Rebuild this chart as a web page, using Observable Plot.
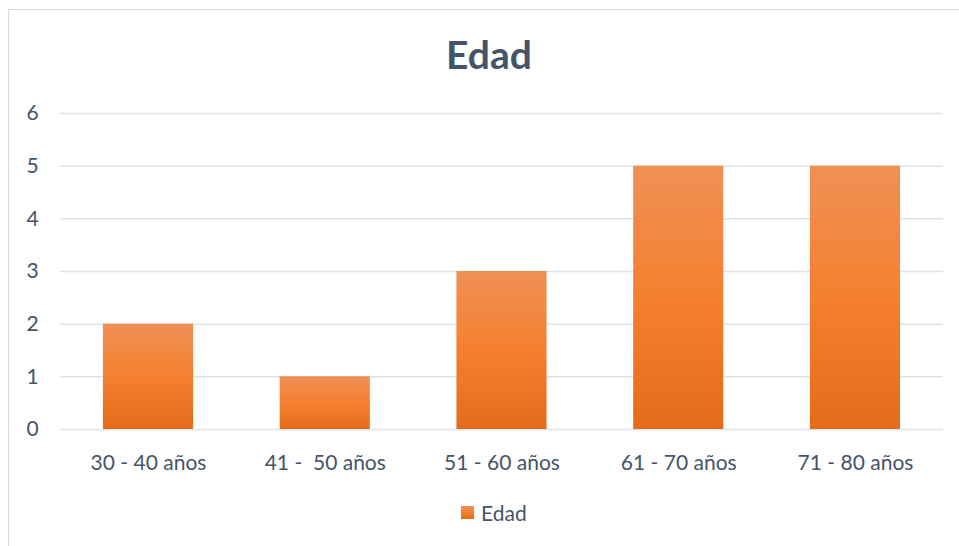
<!DOCTYPE html>
<html><head><meta charset="utf-8">
<script src="https://cdn.jsdelivr.net/npm/d3@7"></script>
<script src="https://cdn.jsdelivr.net/npm/@observablehq/plot@0.6"></script>
<style>
html,body{margin:0;padding:0;background:#fff;}
#wrap{position:relative;width:959px;height:546px;overflow:hidden;font-family:Lato,"Open Sans",sans-serif;}
#frame{position:absolute;left:8px;top:9px;width:1000px;height:600px;border-left:1px solid #D9D9D9;border-top:1px solid #D9D9D9;}
#title{position:absolute;left:0;width:978px;top:31px;text-align:center;font-size:39px;font-weight:bold;color:#44546A;}
#legend{position:absolute;left:461px;top:500px;font-size:21px;color:#44546A;display:flex;align-items:center;}
#legend span.sw{display:inline-block;width:13px;height:13px;margin-right:7px;background:linear-gradient(#F09055,#F4802F,#E36C1A);}
#chart{position:absolute;left:0;top:0;}
</style></head>
<body><div id="wrap"><div id="frame"></div><div id="title">Edad</div><div id="chart"></div><div id="legend"><span class="sw"></span>Edad</div></div>
<script>
const categories = ["30 - 40 años", "41 -  50 años", "51 - 60 años", "61 - 70 años", "71 - 80 años"];
const values = [2, 1, 3, 5, 5];
const yTicks = [0, 1, 2, 3, 4, 5, 6];
const data = categories.map((c, i) => ({cat: c, v: values[i]}));

const plot = Plot.plot({
  width: 959, height: 546,
  marginLeft: 60, marginRight: 16, marginTop: 113, marginBottom: 117,
  style: {fontFamily: "Lato, 'Open Sans', sans-serif", fontSize: "21px", color: "#44546A", background: "transparent"},
  x: {domain: categories, paddingInner: 0.49, paddingOuter: 0.243, round: false, label: null},
  y: {domain: [0, 6], label: null},
  marks: [
    Plot.ruleY(yTicks, {stroke: "#DDE1E8", strokeWidth: 1.5}),
    Plot.barY(data, {x: "cat", y: "v", fill: "url(#barGrad)"}),
    Plot.axisX({tickSize: 0, tickPadding: 26, fontSize: 21}),
    Plot.axisY({ticks: yTicks, tickFormat: d3.format("d"), tickSize: 0, tickPadding: 22, fontSize: 21, textAnchor: "middle", dx: -6})
  ]
});
const ns = "http://www.w3.org/2000/svg";
const defs = document.createElementNS(ns, "defs");
defs.innerHTML = `<linearGradient id="barGrad" x1="0" y1="0" x2="0" y2="1">
<stop offset="0" stop-color="#F09055"/><stop offset="0.5" stop-color="#F4802F"/><stop offset="1" stop-color="#E36C1A"/></linearGradient>`;
plot.insertBefore(defs, plot.firstChild);
document.getElementById("chart").appendChild(plot);
</script></body></html>
